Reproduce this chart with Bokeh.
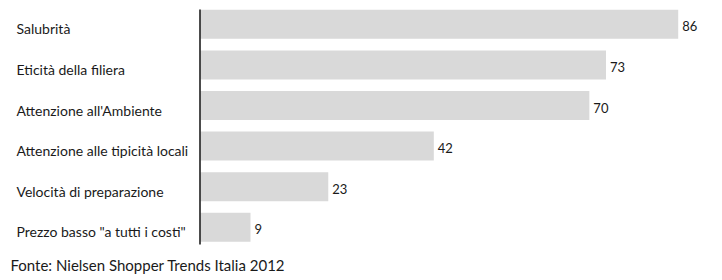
from bokeh.plotting import figure
from bokeh.models import ColumnDataSource, LabelSet, Label, Range1d
from bokeh.core.properties import value
from bokeh.embed import file_html
from bokeh.resources import INLINE

categories = ["Salubrità", "Eticità della filiera", "Attenzione all'Ambiente",
              "Attenzione alle tipicità locali", "Velocità di preparazione",
              "Prezzo basso \"a tutti i costi\""]
values = [86, 73, 70, 42, 23, 9]
source_note = "Fonte: Nielsen Shopper Trends Italia 2012"

W, H = 722, 280
x0_px = 200.0          # pixel of value 0
px_per_unit = 5.555
pitch = 40.6
first_center = 23.8

pos = list(range(len(categories)))
src = ColumnDataSource(dict(y=pos, v=values, cat=categories,
                            vl=[str(v) for v in values]))

p = figure(width=W, height=H, output_backend="svg", toolbar_location=None,
           x_range=Range1d(-x0_px / px_per_unit, (W - x0_px) / px_per_unit),
           y_range=Range1d((H - first_center) / pitch, -first_center / pitch),
           min_border=0, x_axis_type=None, y_axis_type=None)
p.grid.visible = False
p.outline_line_color = None
p.background_fill_color = "white"
p.border_fill_color = "white"

p.hbar(y="y", left=0, right="v", height=29 / pitch, source=src,
       fill_color="#d9d9d9", line_color=None)

# vertical axis line
p.segment(x0=[-0.09], x1=[-0.09], y0=[(9 - first_center) / pitch],
          y1=[(244 - first_center) / pitch], line_color="#111111", line_width=1.5)

font = value("Lato")
cat_labels = LabelSet(x=16, x_units="screen", y="y", text="cat", source=src,
                      y_offset=-10, text_baseline="alphabetic", text_align="left",
                      text_font=font, text_font_size="14px", text_color="#1a1a1a")
p.add_layout(cat_labels)

val_labels = LabelSet(x="v", y="y", text="vl", source=src, x_offset=4,
                      y_offset=-7, text_baseline="alphabetic", text_align="left",
                      text_font=font, text_font_size="13px", text_color="#1a1a1a")
p.add_layout(val_labels)

note = Label(x=10, y=16, x_units="screen", y_units="screen", text=source_note,
             text_font="Lato", text_font_size="15px", text_color="#1a1a1a",
             text_baseline="alphabetic")
p.add_layout(note)

open("out.html", "w").write(file_html(p, INLINE))
